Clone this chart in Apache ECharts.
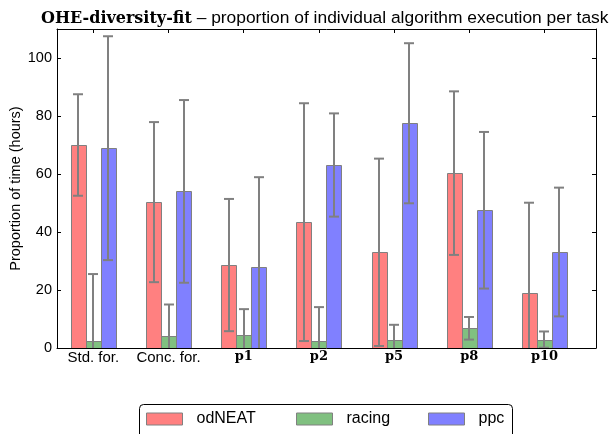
<!DOCTYPE html>
<html>
<head>
<meta charset="utf-8">
<script src="https://cdn.jsdelivr.net/npm/echarts@6/dist/echarts.min.js"></script>
<style>html,body{margin:0;padding:0;background:#fff;}#c{width:611px;height:434px;}</style>
</head>
<body>
<div id="c"></div>
<script>
var categories = ['Std. for.', 'Conc. for.', 'p1', 'p2', 'p5', 'p8', 'p10'];
var seriesNames = ['odNEAT', 'racing', 'ppc'];
var odneatMean = [70.0, 50.3, 28.6, 43.4, 33.0, 60.3, 18.9];
var odneatErr  = [17.5, 27.6, 22.8, 41.0, 32.3, 28.2, 31.2];
var racingMean = [2.3, 4.0, 4.4, 2.3, 2.6, 6.8, 2.9];
var racingErr  = [23.2, 11.0, 9.0, 11.8, 5.4, 3.9, 2.8];
var ppcMean    = [68.9, 54.0, 27.9, 63.1, 77.5, 47.5, 33.1];
var ppcErr     = [38.6, 31.5, 31.0, 17.8, 27.6, 27.0, 22.2];
var yTicks = [0, 20, 40, 60, 80, 100];

var means = [odneatMean, racingMean, ppcMean];
var errs = [odneatErr, racingErr, ppcErr];
var fills = ['#ff8080', '#80c080', '#8080ff'];
var offsets = [-15, 0, 15];
var BAR_W = 15;
var xIdx = categories.map(function (c, i) { return i; });

var chart = echarts.init(document.getElementById('c'), null, {renderer: 'canvas'});
var series = [];
seriesNames.forEach(function (name, s) {
  series.push({
    name: name, type: 'custom', xAxisIndex: 0, yAxisIndex: 0, clip: true, z: 2,
    itemStyle: {color: fills[s], borderColor: '#808080', borderWidth: 1},
    data: means[s].map(function (v, i) { return [i, v]; }),
    renderItem: function (params, api) {
      var p0 = api.coord([api.value(0), 0]);
      var p1 = api.coord([api.value(0), api.value(1)]);
      var cx = p0[0] + offsets[s];
      return {type: 'rect',
        shape: {x: Math.round(cx - BAR_W / 2) + 0.5, y: Math.round(p1[1]) + 0.5, width: BAR_W, height: Math.round(p0[1]) - Math.round(p1[1])},
        style: {fill: fills[s], stroke: '#808080', lineWidth: 1}};
    }
  });
});
seriesNames.forEach(function (name, s) {
  series.push({
    name: name + ' err', type: 'custom', xAxisIndex: 0, yAxisIndex: 0,
    clip: true, z: 5,
    data: means[s].map(function (v, i) { return [i, v, errs[s][i]]; }),
    renderItem: function (params, api) {
      var x = api.value(0), m = api.value(1), e = api.value(2);
      var top = api.coord([x, m + e]);
      var bot = api.coord([x, m - e]);
      var cx = Math.round(top[0] + offsets[s]);
      var st = {stroke: '#808080', lineWidth: 2};
      return {type: 'group', children: [
        {type: 'line', shape: {x1: cx, y1: top[1], x2: cx, y2: bot[1]}, style: st},
        {type: 'line', shape: {x1: cx - 5, y1: top[1], x2: cx + 5, y2: top[1]}, style: st},
        {type: 'line', shape: {x1: cx - 5, y1: bot[1], x2: cx + 5, y2: bot[1]}, style: st}
      ]};
    }
  });
});

var sans = 'Liberation Sans, Arial, sans-serif';
var serif = 'DejaVu Serif, serif';
var axLine = {show: true, onZero: false, lineStyle: {color: '#000', width: 1}};
var axTick = {show: true, inside: true, length: 4, lineStyle: {color: '#000'}};

var legends = [146, 296, 428].map(function (l, s) {
  return {
    data: [seriesNames[s]], left: l, top: 411, padding: 0,
    itemWidth: 36, itemHeight: 12, icon: 'rect',
    itemStyle: {color: fills[s], borderColor: '#808080', borderWidth: 1},
    textStyle: {fontFamily: sans, fontSize: 16, color: '#000', padding: [0, 0, 0, 9]}
  };
});

chart.setOption({
  animation: false,
  backgroundColor: '#fff',
  title: {
    text: '{b|OHE-diversity-fit} – proportion of individual algorithm execution per task',
    left: 41, top: 10, padding: 0,
    textStyle: {fontFamily: sans, fontSize: 17.4, fontWeight: 'normal', color: '#000',
      rich: {b: {fontFamily: serif, fontWeight: 'bold', fontSize: 16, color: '#000'}}}
  },
  legend: legends,
  graphic: [{type: 'rect', shape: {x: 139.5, y: 404.5, width: 373, height: 40, r: 4},
    style: {fill: 'none', stroke: '#000', lineWidth: 1}, z: 10, silent: true}],
  grid: {left: 57, right: 15, top: 29, bottom: 86, containLabel: false, outerBoundsMode: 'none'},
  xAxis: [{
    type: 'value', position: 'bottom', min: -0.483, max: 6.685,
    axisLine: axLine, axisTick: Object.assign({customValues: xIdx}, axTick),
    splitLine: {show: false},
    axisLabel: {customValues: xIdx, margin: 2, color: '#000', fontFamily: sans, fontSize: 15,
      formatter: function (v) {
        var c = categories[Math.round(v)];
        return /^p\d+/.test(c) ? '{p|' + c + '}' : c;
      },
      rich: {p: {fontFamily: serif, fontWeight: 'bold', fontSize: 13, color: '#000'}}}
  }, {
    type: 'value', position: 'top', min: -0.483, max: 6.685,
    axisLine: axLine, axisTick: Object.assign({customValues: xIdx}, axTick),
    splitLine: {show: false}, axisLabel: {show: false}
  }],
  yAxis: [{
    type: 'value', position: 'left', min: 0, max: 110,
    name: 'Proportion of time (hours)', nameLocation: 'middle', nameGap: 34, nameMoveOverlap: false,
    nameTextStyle: {fontFamily: sans, fontSize: 14.5, color: '#000'},
    axisLine: axLine, axisTick: Object.assign({customValues: yTicks}, axTick),
    splitLine: {show: false},
    axisLabel: {customValues: yTicks, margin: 5, color: '#000', fontFamily: sans, fontSize: 14.5}
  }, {
    type: 'value', position: 'right', min: 0, max: 110,
    axisLine: axLine, axisTick: Object.assign({customValues: yTicks}, axTick),
    splitLine: {show: false}, axisLabel: {show: false}
  }],
  series: series
});
</script>
</body>
</html>
